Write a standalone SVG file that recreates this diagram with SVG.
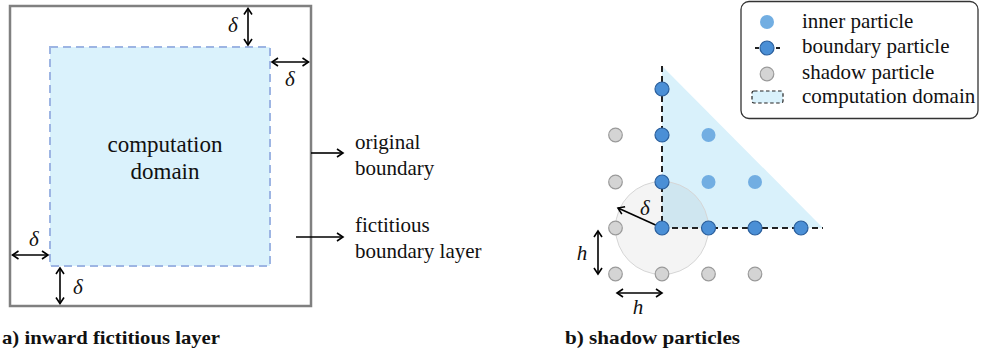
<svg xmlns="http://www.w3.org/2000/svg" width="981" height="352" viewBox="0 0 981 352">
<defs>
<marker id="ah" viewBox="-8 -5 10 10" refX="0" refY="0" markerWidth="10" markerHeight="10" markerUnits="userSpaceOnUse" orient="auto-start-reverse">
<path d="M-6,-4 L0,0 L-6,4" fill="none" stroke="#000" stroke-width="1.6" stroke-linejoin="miter"/>
</marker>
</defs>
<style>
text{font-family:'Liberation Serif','Times New Roman',serif;fill:#111}
.t{font-size:21px}
.big{font-size:23px}
.m{font-size:21px;font-style:italic}
.cap{font-size:19px;font-weight:bold}
.arr{stroke:#000;stroke-width:1.6;fill:none}
.dbl{marker-start:url(#ah);marker-end:url(#ah)}
.one{marker-end:url(#ah)}
.dash{stroke:#222;stroke-width:2;stroke-dasharray:6 4;fill:none}
.inner{fill:#72aee2}
.bnd{fill:#4a8fd6;stroke:#2b5f9c;stroke-width:1.2}
.shd{fill:#d4d4d4;stroke:#9a9a9a;stroke-width:1.2}
</style>

<!-- Panel a -->
<g id="outer-boundary">
<rect x="10" y="6" width="301" height="300" fill="#fff" stroke="#808080" stroke-width="2.5"/>
</g>
<g id="computation-domain-a">
<rect x="50" y="47" width="220" height="219" fill="#daf2fc" stroke="#9db5e3" stroke-width="2" stroke-dasharray="8 5"/>
<text class="big" x="165" y="152" text-anchor="middle">computation</text>
<text class="big" x="165" y="179" text-anchor="middle">domain</text>
</g>
<g id="label-original">
<text class="t" x="355" y="149">original</text>
<text class="t" x="355" y="175">boundary</text>
</g>
<g id="label-fictitious">
<text class="t" x="355" y="232">fictitious</text>
<text class="t" x="355" y="258">boundary layer</text>
</g>
<g id="delta-labels-a">
<text class="m" x="233" y="32" text-anchor="middle">δ</text>
<text class="m" x="290" y="86" text-anchor="middle">δ</text>
<text class="m" x="34" y="246" text-anchor="middle">δ</text>
<text class="m" x="78" y="294" text-anchor="middle">δ</text>
</g>
<g id="connectors-a">
<line class="arr dbl" x1="248" y1="8.5" x2="248" y2="45"/>
<line class="arr dbl" x1="272" y1="62" x2="308.5" y2="62"/>
<line class="arr dbl" x1="12.5" y1="255" x2="48" y2="255"/>
<line class="arr dbl" x1="60" y1="268" x2="60" y2="303.5"/>
<line class="arr one" x1="311" y1="153" x2="343" y2="153"/>
<line class="arr one" x1="296" y1="237" x2="343" y2="237"/>
</g>
<g id="caption-a">
<text class="cap" x="2" y="344" textLength="218" lengthAdjust="spacingAndGlyphs">a) inward fictitious layer</text>
</g>

<!-- Panel b -->
<g id="domain-b">
<polygon points="662,66 662,228 823,228" fill="#d9f1fb"/>
</g>
<g id="support-circle">
<circle cx="662" cy="228" r="46.5" fill="#000" fill-opacity="0.045" stroke="#d6d6d6" stroke-width="1"/>
</g>
<g id="connectors-b">
<line class="dash" x1="662" y1="66" x2="662" y2="228"/>
<line class="dash" x1="662" y1="228" x2="823" y2="228"/>
<line class="arr one" x1="660" y1="227" x2="618" y2="208"/>
<line class="arr dbl" x1="598" y1="231" x2="598" y2="274"/>
<line class="arr dbl" x1="617" y1="293" x2="662" y2="293"/>
</g>
<g id="shadow-particles">
<circle class="shd" cx="615.5" cy="135" r="6.8"/>
<circle class="shd" cx="615.5" cy="182" r="6.8"/>
<circle class="shd" cx="615.5" cy="228" r="6.8"/>
<circle class="shd" cx="615.5" cy="274" r="6.8"/>
<circle class="shd" cx="662" cy="274" r="6.8"/>
<circle class="shd" cx="708.5" cy="274" r="6.8"/>
<circle class="shd" cx="755" cy="274" r="6.8"/>
</g>
<g id="inner-particles">
<circle class="inner" cx="708.5" cy="135" r="7"/>
<circle class="inner" cx="708.5" cy="182" r="7"/>
<circle class="inner" cx="755" cy="182" r="7"/>
</g>
<g id="boundary-particles">
<circle class="bnd" cx="662" cy="89" r="7"/>
<circle class="bnd" cx="662" cy="135" r="7"/>
<circle class="bnd" cx="662" cy="182" r="7"/>
<circle class="bnd" cx="662" cy="228" r="7"/>
<circle class="bnd" cx="708.5" cy="228" r="7"/>
<circle class="bnd" cx="755" cy="228" r="7"/>
<circle class="bnd" cx="801" cy="228" r="7"/>
</g>
<g id="labels-b">
<text class="m" x="645" y="215" text-anchor="middle">δ</text>
<text class="m" x="582" y="260" text-anchor="middle">h</text>
<text class="m" x="638" y="314" text-anchor="middle">h</text>
</g>
<g id="legend">
<rect x="741" y="1.5" width="237" height="117" rx="8" fill="#fff" stroke="#333" stroke-width="1.3"/>
<circle class="inner" cx="767" cy="22" r="7"/>
<text class="t" x="802" y="28">inner particle</text>
<line x1="755" y1="48" x2="780" y2="48" stroke="#222" stroke-width="2" stroke-dasharray="4 17"/>
<circle class="bnd" cx="767" cy="48" r="7"/>
<text class="t" x="802" y="53">boundary particle</text>
<circle class="shd" cx="767" cy="74" r="6.8"/>
<text class="t" x="802" y="79">shadow particle</text>
<rect x="752" y="91" width="31" height="12" rx="2" fill="#daf2fc" stroke="#222" stroke-width="1.2" stroke-dasharray="3.5 2.5"/>
<text class="t" x="802" y="103">computation domain</text>
</g>
<g id="caption-b">
<text class="cap" x="565" y="344" textLength="175" lengthAdjust="spacingAndGlyphs">b) shadow particles</text>
</g>
</svg>
